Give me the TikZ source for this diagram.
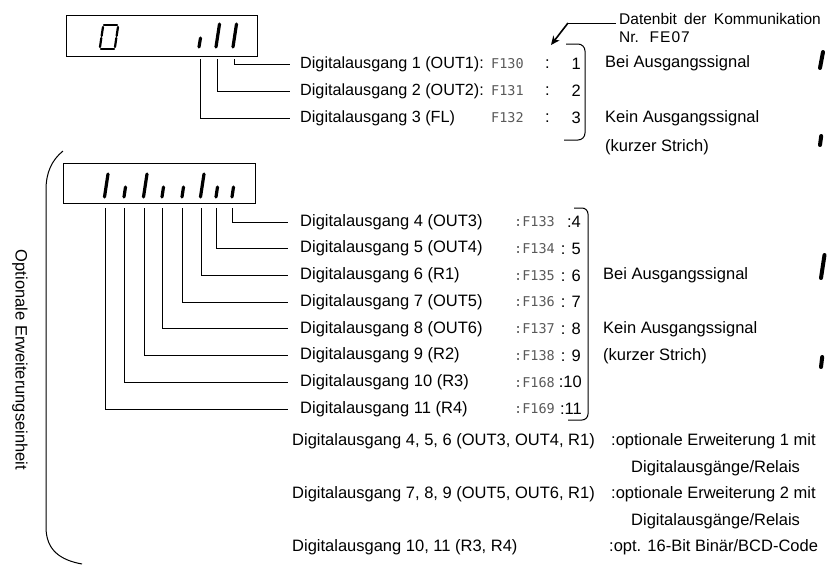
\documentclass[tikz,border=0pt]{standalone}
\usepackage{fontspec}
\setmainfont{Liberation Sans}
\newfontfamily\codefont{DejaVu Sans Mono}
\usetikzlibrary{arrows.meta}
\begin{document}
\begin{tikzpicture}[x=1pt,y=-1pt,
  lbl/.style={anchor=west,inner sep=0pt,font=\fontsize{16.5}{16.5}\selectfont},
  rlbl/.style={anchor=east,inner sep=0pt,font=\fontsize{16.5}{16.5}\selectfont},
  code/.style={anchor=west,inner sep=0pt,font=\codefont\fontsize{13.5}{13.5}\selectfont,text=black!65},
  conn/.style={line width=0.9pt},
  segT/.style={line width=3.2pt,line cap=round},
  segZ/.style={line width=2.2pt,line cap=round},
  icon/.style={line width=4pt,line cap=round},
  disp/.style={draw,line width=1pt,inner sep=0pt,anchor=north west},
  brk/.style={line width=1pt}]
\useasboundingbox (0,0) rectangle (830,568);

% ---------- top display ----------
\node[disp,minimum width=191pt,minimum height=41pt] (box1) at (66,15) {};
% digit 0
\draw[segZ] (104,25)--(117,25);
\draw[segZ] (103,27)--(101.6,36);
\draw[segZ] (118,27)--(116.6,36);
\draw[segZ] (101.3,38)--(100,47);
\draw[segZ] (116.3,38)--(115,47);
\draw[segZ] (101,49)--(114,49);
% segments
\draw[segT] (199,47)--(200.5,38);
\draw[segT] (216,47)--(219.5,24);
\draw[segT] (233,47)--(236.5,24);
\coordinate (t1) at (234,59);
\coordinate (t2) at (217,59);
\coordinate (t3) at (200,59);

\node[lbl,font=\fontsize{16.2}{16.2}\selectfont] (r1) at (300,64) {Digitalausgang 1 (OUT1):};
\node[lbl,font=\fontsize{16.2}{16.2}\selectfont] (r2) at (300,91) {Digitalausgang 2 (OUT2):};
\node[lbl,font=\fontsize{16.2}{16.2}\selectfont] (r3) at (300,118) {Digitalausgang 3 (FL)};
\draw[conn] (t1) |- ([xshift=-10pt]r1.west);
\draw[conn] (t2) |- ([xshift=-10pt]r2.west);
\draw[conn] (t3) |- ([xshift=-10pt]r3.west);

\node[code] (c1) at (491,64) {F130};
\node[code] (c2) at (491,91) {F131};
\node[code] (c3) at (491,118) {F132};
\node[lbl] (k1) at (545,64) {:};
\node[lbl] (k2) at (545,91) {:};
\node[lbl] (k3) at (545,118) {:};
\node[rlbl] (n1) at (581,64) {1};
\node[rlbl] (n2) at (581,91) {2};
\node[rlbl] (n3) at (581,118) {3};
\draw[brk] (566,44) -- (578,44) to[out=0,in=90] (585,51) -- (585,133) to[out=-90,in=0] (578,140) -- (564,140);

\node[lbl] (bei1) at (605,63) {Bei Ausgangssignal};
\node[lbl] (kein1) at (605,118) {Kein Ausgangssignal};
\node[lbl] (ks1) at (605,147) {(kurzer Strich)};
\draw[icon] (820,68)--(823,52);
\draw[icon] (820,145)--(821.2,136);

\node[lbl,font=\fontsize{15.5}{15.5}\selectfont] (dat) at (619,19) {Datenbit\hspace{3pt} der\hspace{3pt} Kommunikation};
\node[lbl,font=\fontsize{15.5}{15.5}\selectfont] (nr) at (619,37) {Nr.\hspace{5pt} F\kern1pt E\kern1pt 0\kern1pt 7};
\coordinate (bend) at (568,23);
\coordinate (tip) at (551,45);
\draw[line width=0.9pt] ([xshift=-3pt,yshift=-4pt]dat.west) -- (bend);
\draw[line width=1.6pt,-{Stealth[length=9pt,width=8pt]}] (bend) -- (tip);

% ---------- lower display ----------
\node[disp,minimum width=192pt,minimum height=40pt] (box2) at (63,163) {};
\foreach \x/\t in {106/1,125/0,145/1,163/0,183/0,202/1,217/0,233/0}{
  \ifnum\t=1
    \draw[segT] (\x-1.5,197)--(\x+2,174);
  \else
    \draw[segT] (\x-1,197)--(\x+0.5,187);
  \fi
}
\coordinate (u4) at (232,208);
\coordinate (u5) at (216,208);
\coordinate (u6) at (201,208);
\coordinate (u7) at (182,208);
\coordinate (u8) at (162,208);
\coordinate (u9) at (144,208);
\coordinate (u10) at (124,208);
\coordinate (u11) at (105,208);

\node[lbl] (q4) at (300,222) {Digitalausgang 4 (OUT3)};
\node[lbl] (q5) at (300,248.7) {Digitalausgang 5 (OUT4)};
\node[lbl] (q6) at (300,275.4) {Digitalausgang 6 (R1)};
\node[lbl] (q7) at (300,302) {Digitalausgang 7 (OUT5)};
\node[lbl] (q8) at (300,328.8) {Digitalausgang 8 (OUT6)};
\node[lbl] (q9) at (300,355.5) {Digitalausgang 9 (R2)};
\node[lbl] (q10) at (300,382.2) {Digitalausgang 10 (R3)};
\node[lbl] (q11) at (300,409) {Digitalausgang 11 (R4)};
\foreach \i in {4,...,11}{
  \draw[conn] (u\i) |- ([xshift=-12pt]q\i.west);
}

\node[code] (d4) at (514,222) {:F133};
\node[code] (d5) at (514,248.7) {:F134};
\node[code] (d6) at (514,275.4) {:F135};
\node[code] (d7) at (514,302) {:F136};
\node[code] (d8) at (514,328.8) {:F137};
\node[code] (d9) at (514,355.5) {:F138};
\node[code] (d10) at (514,382.2) {:F168};
\node[code] (d11) at (514,409) {:F169};
\node[rlbl] (m4) at (581,222) {:4};
\node[rlbl] (m5) at (581,248.7) {: 5};
\node[rlbl] (m6) at (581,275.4) {: 6};
\node[rlbl] (m7) at (581,302) {: 7};
\node[rlbl] (m8) at (581,328.8) {: 8};
\node[rlbl] (m9) at (581,355.5) {: 9};
\node[rlbl] (m10) at (582,382.2) {:10};
\node[rlbl] (m11) at (582,409) {:11};
\draw[brk] (574,208) -- (582,208) to[out=0,in=90] (588,214) -- (588,414) to[out=-90,in=0] (582,420) -- (568,420);

\node[lbl] (bei2) at (603,275.4) {Bei Ausgangssignal};
\node[lbl] (kein2) at (603,329) {Kein Ausgangssignal};
\node[lbl] (ks2) at (603,356) {(kurzer Strich)};
\draw[icon] (821,278)--(824.5,255);
\draw[icon] (821,367)--(822.2,357);

% ---------- bottom notes ----------
\node[lbl] (b1) at (292,441) {Digitalausgang 4, 5, 6 (OUT3, OUT4, R1)};
\node[lbl] (e1) at (611,441) {:optionale Erweiterung 1 mit};
\node[lbl] (e1b) at (631,468) {Digitalausgänge/Relais};
\node[lbl] (b2) at (292,494) {Digitalausgang 7, 8, 9 (OUT5, OUT6, R1)};
\node[lbl] (e2) at (611,494) {:optionale Erweiterung 2 mit};
\node[lbl] (e2b) at (631,521) {Digitalausgänge/Relais};
\node[lbl] (b3) at (292,547) {Digitalausgang 10, 11 (R3, R4)};
\node[lbl] (e3) at (609,547) {:opt. 16-Bit Binär/BCD-Code};

% ---------- big left bracket ----------
\draw[brk] (63,151) .. controls (52,160) and (46,172) .. (46,190) -- (46,527) .. controls (46,550) and (60,560) .. (82,564);
\node[rotate=-90,inner sep=0pt,font=\fontsize{16.5}{16.5}\selectfont] (opt) at (20,360) {Optionale Erweiterungseinheit};
\end{tikzpicture}
\end{document}
